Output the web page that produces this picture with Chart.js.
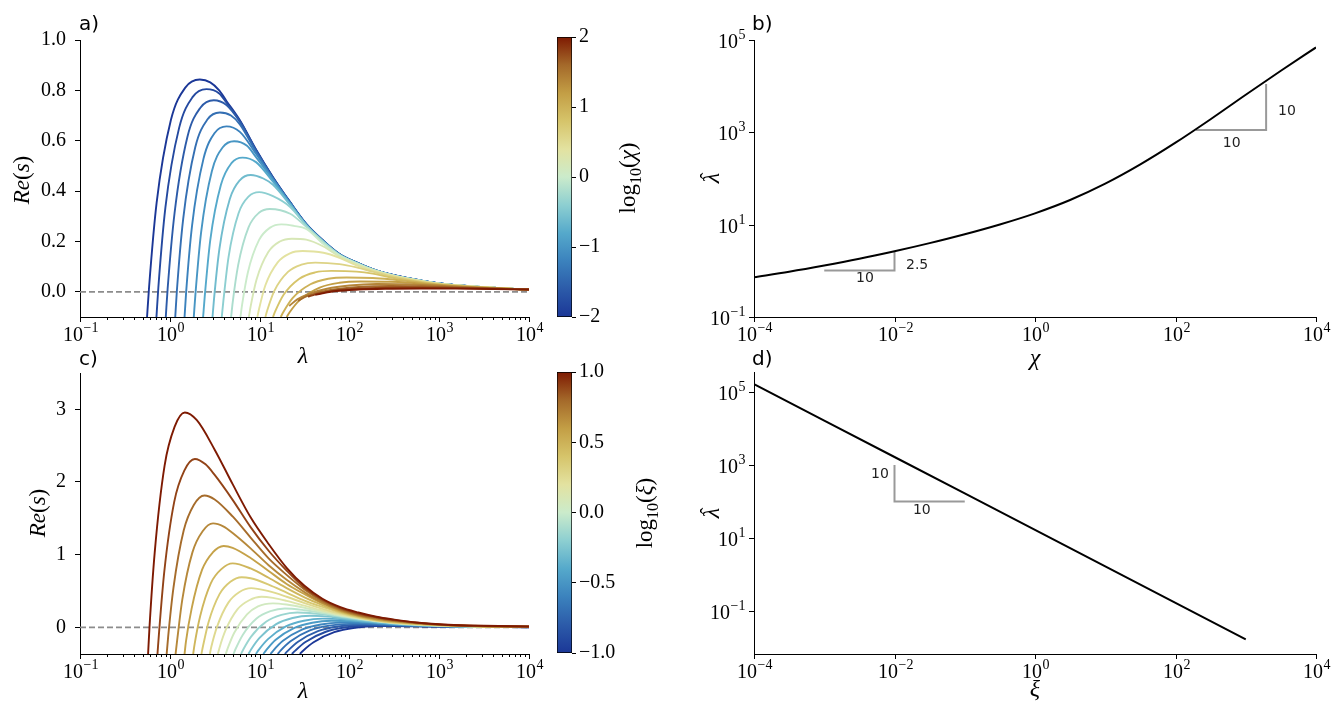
<!DOCTYPE html>
<html>
<head>
<meta charset="utf-8">
<script src="https://cdn.jsdelivr.net/npm/chart.js@4.4.0/dist/chart.umd.min.js"></script>
<style>
  html, body { margin: 0; padding: 0; background: #fff; }
  #wrap { position: relative; width: 1342px; height: 720px; }
  #wrap canvas { position: absolute; left: 0; top: 0; }
</style>
</head>
<body>
<div id="wrap">
  <canvas id="pa" width="1342" height="720"></canvas>
  <canvas id="pb" width="1342" height="720"></canvas>
  <canvas id="pc" width="1342" height="720"></canvas>
  <canvas id="pd" width="1342" height="720"></canvas>
  <canvas id="cba" width="1342" height="720"></canvas>
  <canvas id="cbc" width="1342" height="720"></canvas>
</div>
<script>
// ---- data ----
// a) Re(s) against lambda, one curve per log10(chi)
let chiExp = [-2, -1.8, -1.6, -1.4, -1.2, -1, -0.8, -0.6, -0.4, -0.2, 0, 0.2, 0.4, 0.6, 0.8, 1, 1.2, 1.4, 1.6, 1.8, 2];
let reA = [
  [[0.558,-0.1],[0.589,0.023],[0.713,0.353],[1.03,0.683],[1.48,0.810],[2.16,0.843],[2.82,0.832],[3.55,0.800],[4.27,0.758],[6.03,0.681],[9.12,0.565],[14.1,0.455],[21.9,0.356],[33.1,0.270],[51.3,0.203],[77.6,0.150],[120,0.117],[182,0.090],[282,0.070],[437,0.055],[1000,0.033],[3162,0.018],[10000,0.009]],
  [[0.710,-0.1],[0.746,0.018],[0.893,0.334],[1.27,0.651],[1.79,0.773],[2.56,0.805],[3.55,0.788],[4.27,0.752],[6.03,0.678],[9.12,0.563],[14.1,0.454],[21.9,0.355],[33.1,0.269],[51.3,0.202],[77.6,0.150],[120,0.117],[182,0.090],[282,0.070],[437,0.055],[1000,0.033],[3162,0.018],[10000,0.009]],
  [[0.902,-0.1],[0.946,0.012],[1.13,0.313],[1.57,0.615],[2.19,0.731],[3.09,0.761],[4.27,0.742],[6.03,0.675],[9.12,0.561],[14.1,0.452],[21.9,0.354],[33.1,0.268],[51.3,0.202],[77.6,0.149],[120,0.116],[182,0.089],[282,0.070],[437,0.055],[1000,0.033],[3162,0.018],[10000,0.009]],
  [[1.15,-0.1],[1.20,0.006],[1.41,0.290],[1.92,0.574],[2.62,0.684],[3.61,0.712],[4.80,0.700],[6.03,0.665],[9.12,0.556],[14.1,0.450],[21.9,0.353],[33.1,0.268],[51.3,0.201],[77.6,0.149],[120,0.116],[182,0.089],[282,0.069],[437,0.055],[1000,0.033],[3162,0.018],[10000,0.009]],
  [[1.46,-0.1],[1.52,-0.002],[1.77,0.263],[2.37,0.528],[3.16,0.631],[4.28,0.657],[6.03,0.635],[9.12,0.548],[14.1,0.448],[21.9,0.352],[33.1,0.267],[51.3,0.201],[77.6,0.148],[120,0.116],[182,0.089],[282,0.069],[437,0.054],[1000,0.033],[3162,0.018],[10000,0.009]],
  [[1.85,-0.1],[1.93,-0.009],[2.23,0.235],[2.94,0.479],[3.89,0.574],[5.20,0.598],[7.24,0.580],[9.12,0.535],[14.1,0.445],[21.9,0.350],[33.1,0.266],[51.3,0.200],[77.6,0.148],[120,0.115],[182,0.089],[282,0.069],[437,0.054],[1000,0.033],[3162,0.018],[10000,0.009]],
  [[2.35,-0.1],[2.45,-0.018],[2.82,0.204],[3.71,0.425],[4.86,0.511],[6.46,0.533],[9.12,0.515],[14.1,0.437],[21.9,0.348],[33.1,0.265],[51.3,0.199],[77.6,0.147],[120,0.115],[182,0.088],[282,0.069],[437,0.054],[1000,0.032],[3162,0.018],[10000,0.009]],
  [[2.99,-0.1],[3.11,-0.027],[3.57,0.171],[4.65,0.368],[6.05,0.444],[7.98,0.464],[11.0,0.450],[14.1,0.425],[21.9,0.345],[33.1,0.264],[51.3,0.199],[77.6,0.147],[120,0.114],[182,0.088],[282,0.068],[437,0.054],[1000,0.032],[3162,0.018],[10000,0.009]],
  [[3.79,-0.1],[3.95,-0.036],[4.51,0.138],[5.83,0.312],[7.57,0.379],[9.89,0.396],[14.1,0.380],[21.9,0.337],[33.1,0.263],[51.3,0.198],[77.6,0.146],[120,0.114],[182,0.088],[282,0.068],[437,0.054],[1000,0.032],[3162,0.018],[10000,0.009]],
  [[4.82,-0.1],[5.01,-0.044],[5.77,0.106],[7.53,0.256],[9.84,0.314],[13.0,0.329],[21.9,0.310],[33.1,0.258],[51.3,0.197],[77.6,0.146],[120,0.114],[182,0.088],[282,0.068],[437,0.053],[1000,0.032],[3162,0.018],[10000,0.009]],
  [[6.12,-0.1],[6.38,-0.052],[7.40,0.077],[9.84,0.205],[13.1,0.255],[17.5,0.268],[24.0,0.262],[33.1,0.250],[51.3,0.190],[77.6,0.145],[120,0.113],[182,0.087],[282,0.068],[437,0.053],[1000,0.032],[3162,0.018],[10000,0.009]],
  [[7.59,-0.1],[7.93,-0.060],[9.25,0.049],[12.5,0.158],[16.8,0.200],[22.9,0.211],[33.1,0.207],[51.3,0.180],[77.6,0.140],[120,0.110],[182,0.086],[282,0.067],[437,0.053],[1000,0.032],[3162,0.018],[10000,0.009]],
  [[9.44,-0.1],[9.89,-0.066],[11.6,0.026],[15.9,0.117],[21.8,0.153],[30.2,0.162],[51.3,0.155],[77.6,0.135],[120,0.105],[182,0.084],[282,0.066],[437,0.052],[1000,0.032],[3162,0.018],[10000,0.009]],
  [[11.6,-0.1],[12.2,-0.072],[14.6,0.004],[20.7,0.079],[29.2,0.108],[41.7,0.116],[77.6,0.110],[120,0.097],[182,0.080],[282,0.063],[437,0.050],[1000,0.031],[3162,0.018],[10000,0.009]],
  [[14.1,-0.1],[15.0,-0.076],[18.5,-0.012],[27.7,0.052],[41.5,0.077],[63.1,0.083],[120,0.080],[182,0.072],[282,0.058],[437,0.047],[1000,0.029],[3162,0.017],[10000,0.009]],
  [[17.2,-0.1],[18.4,-0.080],[23.3,-0.025],[36.8,0.030],[58.1,0.052],[93.3,0.057],[182,0.055],[282,0.050],[437,0.043],[1000,0.028],[3162,0.016],[10000,0.009]],
  [[20.0,-0.1],[21.5,-0.082],[28.1,-0.032],[46.7,0.017],[77.6,0.036],[132,0.041],[282,0.040],[437,0.037],[1000,0.026],[3162,0.016],[10000,0.009]],
  [[21.4,-0.056],[26.3,-0.030],[35.5,-0.008],[56.2,0.012],[100,0.025],[200,0.031],[437,0.030],[1000,0.024],[3162,0.015],[10000,0.009]],
  [[26.9,-0.036],[33.1,-0.018],[44.7,-0.003],[70.8,0.010],[126,0.019],[282,0.023],[631,0.022],[1000,0.020],[3162,0.014],[10000,0.009]],
  [[34.7,-0.020],[41.7,-0.010],[56.2,0.000],[89.1,0.009],[158,0.014],[398,0.017],[1000,0.016],[3162,0.013],[10000,0.009]],
  [[41.7,-0.012],[50.1,-0.006],[70.8,0.003],[126,0.009],[251,0.012],[631,0.013],[1585,0.0125],[3981,0.011],[10000,0.009]]
];

// c) Re(s) against lambda, one curve per log10(xi)
let xiExp = [1, 0.895, 0.789, 0.684, 0.579, 0.474, 0.368, 0.263, 0.158, 0.053, -0.053, -0.158, -0.263, -0.368, -0.474, -0.579, -0.684, -0.789, -0.895, -1];
let reC = [
  [[0.573,-0.367],[0.594,-0.001],[0.679,1.029],[0.875,2.226],[1.13,2.758],[1.47,2.957],[2.00,2.850],[3.16,2.445],[5.01,1.970],[7.94,1.514],[12.6,1.147],[20.0,0.819],[31.6,0.571],[50.1,0.393],[79.4,0.278],[126,0.204],[200,0.145],[316,0.106],[562,0.066],[1259,0.035],[3162,0.021],[10000,0.012]],
  [[0.729,-0.367],[0.759,-0.072],[0.867,0.760],[1.12,1.727],[1.45,2.156],[1.90,2.317],[2.50,2.243],[3.16,2.097],[5.01,1.754],[7.94,1.379],[12.6,1.054],[20.0,0.781],[31.6,0.545],[50.1,0.380],[79.4,0.264],[126,0.190],[200,0.139],[316,0.0996],[562,0.065],[1259,0.032],[3162,0.019],[10000,0.0107]],
  [[0.923,-0.367],[0.959,-0.127],[1.10,0.549],[1.43,1.335],[1.85,1.684],[2.43,1.815],[3.16,1.760],[5.01,1.526],[7.94,1.236],[12.6,0.949],[20.0,0.722],[31.6,0.521],[50.1,0.361],[79.4,0.250],[126,0.176],[200,0.129],[316,0.093],[562,0.062],[1259,0.031],[3162,0.017],[10000,0.0094]],
  [[1.16,-0.367],[1.21,-0.169],[1.38,0.388],[1.79,1.035],[2.32,1.322],[3.03,1.430],[3.98,1.387],[5.01,1.298],[7.94,1.087],[12.6,0.855],[20.0,0.655],[31.6,0.485],[50.1,0.339],[79.4,0.236],[126,0.164],[200,0.119],[316,0.086],[562,0.057],[1259,0.030],[3162,0.0154],[10000,0.0086]],
  [[1.46,-0.367],[1.51,-0.203],[1.75,0.258],[2.29,0.793],[3.01,1.031],[3.98,1.120],[5.01,1.095],[7.94,0.955],[12.6,0.776],[20.0,0.597],[31.6,0.456],[50.1,0.329],[79.4,0.228],[126,0.158],[200,0.111],[316,0.082],[562,0.054],[1259,0.029],[3162,0.014],[10000,0.0072]],
  [[1.82,-0.367],[1.89,-0.230],[2.18,0.157],[2.86,0.606],[3.78,0.805],[5.01,0.880],[7.94,0.810],[12.6,0.682],[20.0,0.539],[31.6,0.413],[50.1,0.307],[79.4,0.215],[126,0.150],[200,0.104],[316,0.075],[562,0.050],[1259,0.027],[3162,0.0123],[10000,0.0066]],
  [[2.25,-0.367],[2.35,-0.251],[2.71,0.077],[3.58,0.457],[4.73,0.627],[6.31,0.690],[7.94,0.675],[12.6,0.589],[20.0,0.478],[31.6,0.368],[50.1,0.281],[79.4,0.203],[126,0.141],[200,0.097],[316,0.068],[562,0.047],[1259,0.026],[3162,0.012],[10000,0.0059]],
  [[2.79,-0.367],[2.90,-0.267],[3.37,0.014],[4.49,0.340],[5.97,0.486],[8.04,0.540],[12.6,0.498],[20.0,0.421],[31.6,0.333],[50.1,0.255],[79.4,0.190],[126,0.133],[200,0.093],[316,0.064],[562,0.043],[1259,0.024],[3162,0.0117],[10000,0.0052]],
  [[3.43,-0.367],[3.58,-0.280],[4.19,-0.036],[5.66,0.247],[7.66,0.373],[10.5,0.420],[14.1,0.405],[20.0,0.364],[31.6,0.298],[50.1,0.231],[79.4,0.176],[126,0.128],[200,0.089],[316,0.062],[562,0.040],[1259,0.023],[3162,0.0116],[10000,0.0047]],
  [[4.20,-0.367],[4.41,-0.290],[5.22,-0.074],[7.24,0.177],[9.59,0.288],[14.1,0.330],[20.0,0.314],[31.6,0.269],[50.1,0.215],[79.4,0.165],[126,0.125],[200,0.088],[316,0.061],[562,0.039],[1259,0.022],[3162,0.0114],[10000,0.0044]],
  [[5.12,-0.367],[5.40,-0.298],[6.49,-0.104],[9.25,0.122],[13.2,0.222],[19.1,0.260],[31.6,0.236],[50.1,0.197],[79.4,0.155],[126,0.119],[200,0.086],[316,0.060],[562,0.038],[1259,0.0216],[3162,0.0112],[10000,0.0043]],
  [[6.21,-0.367],[6.58,-0.304],[8.05,-0.127],[11.9,0.079],[17.5,0.171],[26.3,0.205],[36.3,0.198],[50.1,0.178],[79.4,0.145],[126,0.110],[200,0.082],[316,0.056],[562,0.036],[1259,0.019],[3162,0.010],[10000,0.0042]],
  [[7.52,-0.367],[8.00,-0.309],[9.98,-0.146],[15.3,0.044],[23.3,0.128],[36.3,0.160],[50.1,0.154],[79.4,0.128],[126,0.099],[200,0.074],[316,0.051],[562,0.033],[1259,0.017],[3162,0.009],[10000,0.0038]],
  [[9.08,-0.367],[9.73,-0.313],[12.4,-0.162],[19.6,0.013],[31.1,0.091],[50.1,0.120],[79.4,0.113],[126,0.088],[200,0.066],[316,0.046],[562,0.030],[1259,0.016],[3162,0.008],[10000,0.0035]],
  [[11.0,-0.367],[11.8,-0.317],[15.0,-0.175],[24.1,-0.011],[38.6,0.063],[63.1,0.090],[79.4,0.088],[126,0.080],[200,0.060],[316,0.042],[562,0.027],[1259,0.014],[3162,0.007],[10000,0.003]],
  [[13.2,-0.367],[14.2,-0.319],[18.2,-0.186],[29.6,-0.030],[48.1,0.039],[79.4,0.065],[126,0.062],[200,0.052],[316,0.037],[562,0.024],[1259,0.013],[3162,0.0065],[10000,0.003]],
  [[15.9,-0.367],[17.1,-0.321],[22.1,-0.193],[36.3,-0.043],[59.7,0.023],[100,0.048],[126,0.047],[200,0.042],[316,0.032],[562,0.021],[1259,0.012],[3162,0.006],[10000,0.0025]],
  [[19.1,-0.367],[20.6,-0.323],[26.8,-0.198],[44.6,-0.053],[74.1,0.011],[126,0.035],[200,0.033],[316,0.027],[562,0.019],[1259,0.011],[3162,0.0055],[10000,0.0022]],
  [[22.9,-0.367],[24.8,-0.324],[32.4,-0.202],[54.7,-0.061],[92.3,0.001],[158,0.025],[316,0.022],[562,0.016],[1259,0.0095],[3162,0.005],[10000,0.002]],
  [[28.1,-0.367],[30.3,-0.325],[39.9,-0.205],[67.8,-0.067],[115,-0.005],[200,0.018],[316,0.017],[562,0.013],[1259,0.008],[3162,0.0045],[10000,0.0018]]
];

// b) lambda-hat against chi
let chiB = [1e-4, 3.16e-4, 1e-3, 3.16e-3, 1e-2, 3.16e-2, 0.1, 0.316, 1, 3.16, 10, 31.6, 100, 316, 1000, 3162, 1e4];
let lamHatB = [0.729, 0.955, 1.30, 1.82, 2.65, 3.98, 6.20, 10.1, 17.6, 34.2, 77.3, 202, 596, 1923, 6516, 21580, 69020];
// d) lambda-hat against xi
let xiD = [1e-4, 1e-3, 1e-2, 0.1, 1, 10, 100, 1000];
let lamHatD = [166000, 16600, 1660, 166, 16.6, 1.66, 0.166, 0.0166];

// slope guides
let guideB1 = [[1e-3, 1.02], [1e-2, 1.02], [1e-2, 2.55]];
let guideB2 = [[195, 1120], [1950, 1120], [1950, 11200]];
let guideD = [[1e-2, 1000], [1e-2, 100], [0.1, 100]];

// decade exponents carrying tick labels
let xExpA = [-1, 0, 1, 2, 3, 4];
let xExpB = [-4, -2, 0, 2, 4];
let yExpB = [-1, 1, 3, 5];

// ---- style ----
const W = 1342, H = 720;
const SERIF = '"Liberation Serif", "DejaVu Serif", serif';
const SANS = '"DejaVu Sans", "Liberation Sans", sans-serif';
Chart.defaults.font.family = SERIF;
Chart.defaults.font.size = 20;
Chart.defaults.color = '#000';
Chart.defaults.animation = false;

const cmapStops = ['#1b3797', '#2c5ba9', '#3b82bd', '#55a9cb', '#8dcfd1', '#cbebcb',
                   '#e3e2a0', '#d6c46a', '#c39e45', '#a4692a', '#7e1a02'];

function hexRgb(h) {
  return [parseInt(h.slice(1, 3), 16), parseInt(h.slice(3, 5), 16), parseInt(h.slice(5, 7), 16)];
}
function cmap(t) {
  t = Math.max(0, Math.min(1, t));
  const n = cmapStops.length - 1;
  const i = Math.min(n - 1, Math.floor(t * n));
  const f = t * n - i;
  const a = hexRgb(cmapStops[i]), b = hexRgb(cmapStops[i + 1]);
  return 'rgb(' + a.map((v, k) => Math.round(v + (b[k] - v) * f)).join(',') + ')';
}

// chart area in page pixels; the vertical scale keeps a fixed width for its labels
function area(l, t, r, b, yw, side) {
  return side === 'right'
    ? { left: l, top: t, right: W - r - yw, bottom: H - b }
    : { left: l - yw, top: t, right: W - r, bottom: H - b };
}
const fixSize = n => s => { if (s.isHorizontal()) s.height = 0; else s.width = n; };
const minus = v => (v < 0 ? '\u2212' : '') + Math.abs(v);

let minorA = [];
for (let e = -1; e < 4; e++) for (let m = 2; m < 10; m++) minorA.push(m * Math.pow(10, e));

// "10" with a raised exponent
function pow10Label(ctx, e, x, y, align) {
  const base = '10', ex = e < 0 ? '\u2212' + (-e) : String(e);
  ctx.font = '20px ' + SERIF;
  const w1 = ctx.measureText(base).width;
  ctx.font = '14px ' + SERIF;
  const w2 = ctx.measureText(ex).width;
  let x0 = align === 'right' ? x - w1 - w2 : x - (w1 + w2) / 2;
  ctx.textAlign = 'left';
  ctx.textBaseline = 'alphabetic';
  ctx.font = '20px ' + SERIF;
  ctx.fillText(base, x0, y);
  ctx.font = '14px ' + SERIF;
  ctx.fillText(ex, x0 + w1 + 0.5, y - 9);
}

const logAxes = {
  id: 'logAxes',
  afterDraw(chart, args, o) {
    const ctx = chart.ctx, ca = chart.chartArea;
    ctx.save();
    ctx.strokeStyle = '#000';
    ctx.fillStyle = '#000';
    ctx.lineWidth = 1;
    if (o.x) {
      const s = chart.scales.x;
      (o.x.minor || []).forEach(v => {
        const p = Math.round(s.getPixelForValue(v)) + 0.5;
        ctx.beginPath(); ctx.moveTo(p, ca.bottom); ctx.lineTo(p, ca.bottom + 3); ctx.stroke();
      });
      o.x.major.forEach(e => {
        const p = Math.round(s.getPixelForValue(Math.pow(10, e))) + 0.5;
        ctx.beginPath(); ctx.moveTo(p, ca.bottom); ctx.lineTo(p, ca.bottom + 5); ctx.stroke();
        pow10Label(ctx, e, p, ca.bottom + 24, 'center');
      });
    }
    if (o.y) {
      const s = chart.scales.y;
      o.y.major.forEach(e => {
        const p = Math.round(s.getPixelForValue(Math.pow(10, e))) + 0.5;
        ctx.beginPath(); ctx.moveTo(ca.left - 5, p); ctx.lineTo(ca.left, p); ctx.stroke();
        pow10Label(ctx, e, ca.left - 9, p + 7, 'right');
      });
    }
    (o.notes || []).forEach(n => {
      ctx.font = '14px ' + SANS;
      ctx.textAlign = 'center';
      ctx.textBaseline = 'middle';
      ctx.fillStyle = '#222';
      ctx.fillText(n.t, chart.scales.x.getPixelForValue(n.x), chart.scales.y.getPixelForValue(n.y));
    });
    ctx.restore();
  }
};

// text made of pieces with their own font (italic, subscript, hat)
function drawRich(ctx, parts, x, y, rot) {
  ctx.save();
  ctx.translate(x, y);
  if (rot) ctx.rotate(rot);
  let w = 0;
  parts.forEach(p => { ctx.font = p[1] + ' ' + SERIF; p.w = ctx.measureText(p[0]).width; w += p.w; });
  let cx = -w / 2;
  ctx.textAlign = 'left';
  ctx.textBaseline = 'alphabetic';
  ctx.fillStyle = '#000';
  parts.forEach(p => {
    ctx.font = p[1] + ' ' + SERIF;
    ctx.fillText(p[0], cx, 7 + (p[2] || 0));
    if (p[3]) {
      ctx.font = '20px ' + SERIF;
      const hw = ctx.measureText('\u02c6').width;
      ctx.fillText('\u02c6', cx + p.w / 2 - hw / 2 + 2, 7 - 4);
    }
    cx += p.w;
  });
  ctx.restore();
}

const R90 = -Math.PI / 2;
const pageText = {
  id: 'pageText',
  afterDraw(chart) {
    const ctx = chart.ctx;
    ctx.save();
    ctx.fillStyle = '#000';
    ctx.textAlign = 'left';
    ctx.textBaseline = 'alphabetic';
    ctx.font = '20px ' + SANS;
    ctx.fillText('a)', 79, 30);
    ctx.fillText('b)', 752, 30);
    ctx.fillText('c)', 79, 365);
    ctx.fillText('d)', 752, 365);
    ctx.restore();
    const reS = [['Re', 'italic 23px'], ['(', '23px'], ['s', 'italic 23px'], [')', '23px']];
    drawRich(ctx, reS, 22, 180, R90);
    drawRich(ctx, reS, 38, 513, R90);
    drawRich(ctx, [['\u03bb', 'italic 24px']], 303, 356);
    drawRich(ctx, [['\u03bb', 'italic 24px']], 303, 691);
    drawRich(ctx, [['log', '23px'], ['10', '16px', 6], ['(', '23px'], ['\u03c7', 'italic 23px'], [')', '23px']], 628, 178, R90);
    drawRich(ctx, [['log', '23px'], ['10', '16px', 6], ['(', '23px'], ['\u03be', 'italic 23px'], [')', '23px']], 645, 513, R90);
    drawRich(ctx, [['\u03bb', 'italic 24px', 0, true]], 712, 178, R90);
    drawRich(ctx, [['\u03bb', 'italic 24px', 0, true]], 712, 513, R90);
    drawRich(ctx, [['\u03c7', 'italic 24px']], 1035, 358);
    drawRich(ctx, [['\u03be', 'italic 24px']], 1035, 689);
  }
};

function zeroLine() {
  return { data: [{ x: 0.1, y: 0 }, { x: 1e4, y: 0 }], borderColor: '#8c8c8c', borderWidth: 1.8,
           borderDash: [6, 3], pointRadius: 0, order: 100 };
}

function curveOptions(pad, ymin, ymax, step, fmt) {
  return {
    responsive: false,
    layout: { padding: pad },
    plugins: { legend: { display: false }, tooltip: { enabled: false },
               logAxes: { x: { major: xExpA, minor: minorA } } },
    scales: {
      x: { type: 'logarithmic', min: 0.1, max: 1e4, afterFit: fixSize(0),
           ticks: { display: false }, grid: { display: false }, border: { color: '#000', width: 1 } },
      y: { type: 'linear', min: ymin, max: ymax, afterFit: fixSize(70),
           ticks: { stepSize: step, includeBounds: false, padding: 9, callback: fmt },
           grid: { drawOnChartArea: false, tickLength: 5, color: '#000' },
           border: { color: '#000', width: 1 } }
    }
  };
}

// panel a
let dsA = reA.map((pts, i) => ({
  data: pts.map(p => ({ x: p[0], y: p[1] })),
  borderColor: cmap((chiExp[i] + 2) / 4),
  borderWidth: 1.9, pointRadius: 0, cubicInterpolationMode: 'monotone',
  order: reA.length - i
}));
dsA.push(zeroLine());
new Chart(document.getElementById('pa'), {
  type: 'line',
  data: { datasets: dsA },
  options: curveOptions(area(80, 40, 529, 317, 70), -0.1, 1.0, 0.2, v => v.toFixed(1)),
  plugins: [logAxes, pageText]
});

// panel c
let dsC = reC.map((pts, i) => ({
  data: pts.map(p => ({ x: p[0], y: p[1] })),
  borderColor: cmap((xiExp[i] + 1) / 2),
  borderWidth: 1.9, pointRadius: 0, cubicInterpolationMode: 'monotone'
}));
dsC.push(zeroLine());
new Chart(document.getElementById('pc'), {
  type: 'line',
  data: { datasets: dsC },
  options: curveOptions(area(80, 373, 529, 654, 70), -0.367, 3.5, 1, v => String(v)),
  plugins: [logAxes]
});

// panels b and d
function guide(pts) {
  return { data: pts.map(p => ({ x: p[0], y: p[1] })), borderColor: '#999', borderWidth: 2,
           pointRadius: 0, tension: 0 };
}
function loglogOptions(pad, ymin, ymax, notes) {
  return {
    responsive: false,
    layout: { padding: pad },
    plugins: { legend: { display: false }, tooltip: { enabled: false },
               logAxes: { x: { major: xExpB }, y: { major: yExpB }, notes: notes } },
    scales: {
      x: { type: 'logarithmic', min: 1e-4, max: 1e4, afterFit: fixSize(0),
           ticks: { display: false }, grid: { display: false }, border: { color: '#000', width: 1 } },
      y: { type: 'logarithmic', min: ymin, max: ymax, afterFit: fixSize(0),
           ticks: { display: false }, grid: { display: false }, border: { color: '#000', width: 1 } }
    }
  };
}
new Chart(document.getElementById('pb'), {
  type: 'line',
  data: { datasets: [
    { data: chiB.map((c, i) => ({ x: c, y: lamHatB[i] })), borderColor: '#000', borderWidth: 2,
      pointRadius: 0, cubicInterpolationMode: 'monotone' },
    guide(guideB1), guide(guideB2)
  ] },
  options: loglogOptions(area(754, 40, 1316, 317, 0), 0.1, 1e5, [
    { x: 3.8e-3, y: 0.68, t: '10' }, { x: 2.1e-2, y: 1.33, t: '2.5' },
    { x: 630, y: 590, t: '10' }, { x: 3850, y: 2900, t: '10' }
  ]),
  plugins: [logAxes]
});
new Chart(document.getElementById('pd'), {
  type: 'line',
  data: { datasets: [
    { data: xiD.map((c, i) => ({ x: c, y: lamHatD[i] })), borderColor: '#000', borderWidth: 2,
      pointRadius: 0, tension: 0 },
    guide(guideD)
  ] },
  options: loglogOptions(area(754, 372, 1316, 654, 0), 0.0066, 355000, [
    { x: 6.2e-3, y: 550, t: '10' }, { x: 2.45e-2, y: 56, t: '10' }
  ]),
  plugins: [logAxes]
});

// colour bars
function barGradient(chart) {
  const ca = chart.chartArea;
  if (!ca) return '#888';
  const g = chart.ctx.createLinearGradient(0, ca.bottom, 0, ca.top);
  cmapStops.forEach((c, i) => g.addColorStop(i / (cmapStops.length - 1), c));
  return g;
}
function colorbar(id, pad, lo, hi, step, fmt) {
  new Chart(document.getElementById(id), {
    type: 'bar',
    data: { labels: [''], datasets: [{ data: [[lo, hi]], backgroundColor: c => barGradient(c.chart),
      borderColor: '#000', borderWidth: 1, borderSkipped: false, barPercentage: 1, categoryPercentage: 1 }] },
    options: {
      responsive: false,
      layout: { padding: pad },
      plugins: { legend: { display: false }, tooltip: { enabled: false } },
      scales: {
        x: { display: false },
        y: { position: 'right', min: lo, max: hi, afterFit: fixSize(50),
             ticks: { stepSize: step, padding: 3, callback: fmt },
             grid: { drawOnChartArea: false, tickLength: 4, color: '#000' }, border: { display: false } }
      }
    }
  });
}
colorbar('cba', area(557, 37, 572, 317, 50, 'right'), -2, 2, 1, v => minus(v));
colorbar('cbc', area(557, 372, 572, 653, 50, 'right'), -1, 1, 0.5, v => (v < 0 ? '\u2212' : '') + Math.abs(v).toFixed(1));
</script>
</body>
</html>
